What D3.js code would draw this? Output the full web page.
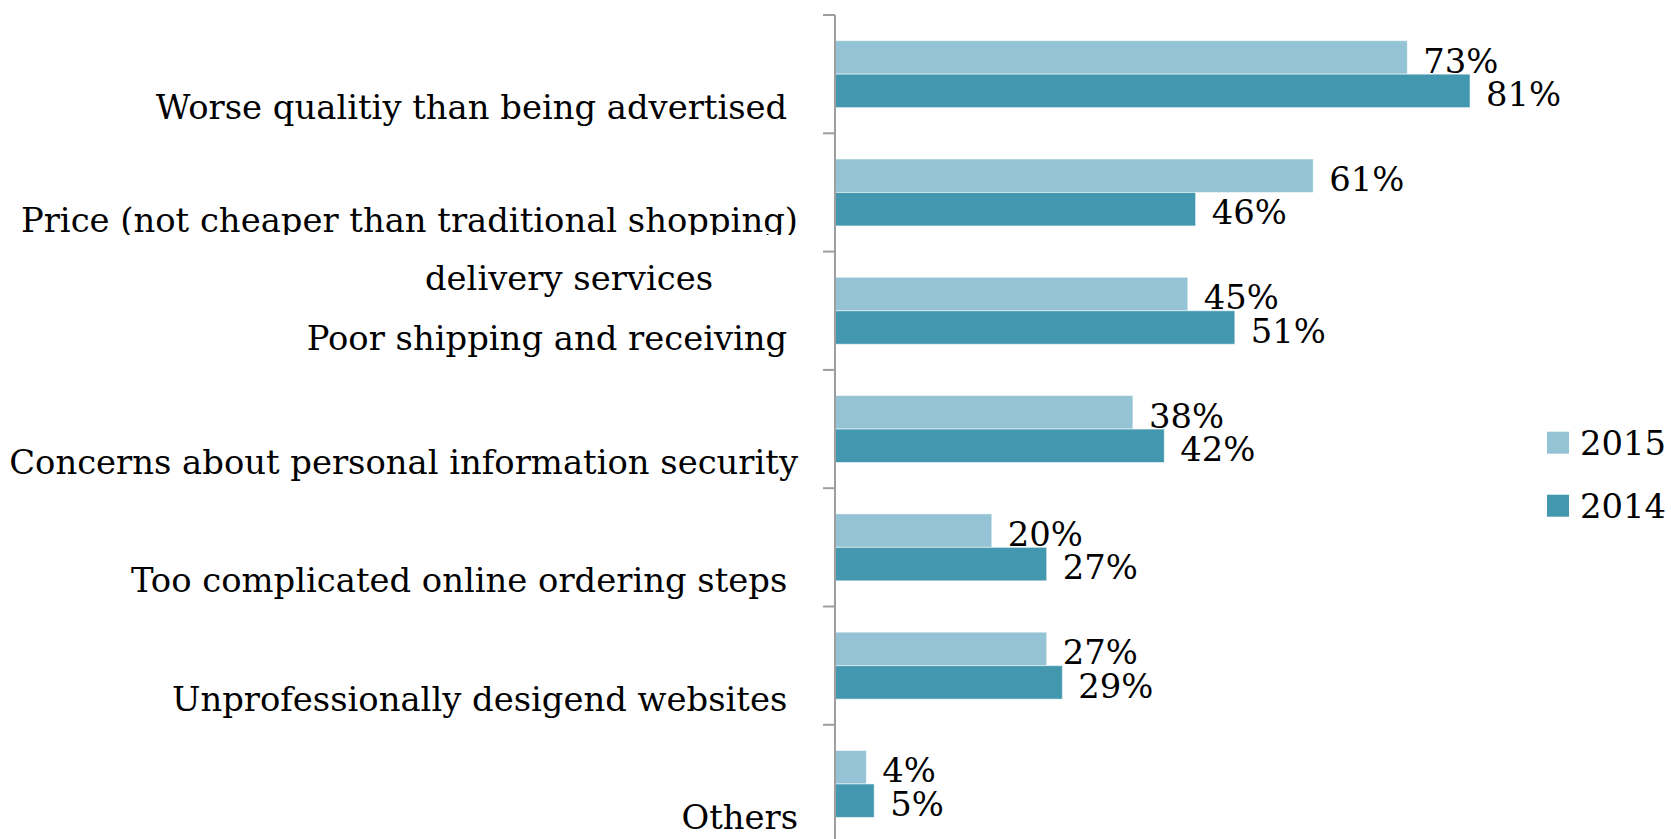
<!DOCTYPE html>
<html>
<head>
<meta charset="utf-8">
<script src="https://cdn.jsdelivr.net/npm/d3@7"></script>
<style>
  html, body { margin: 0; padding: 0; background: #fff; }
  svg { display: block; }
  text { font-family: "DejaVu Serif", serif; fill: #000; white-space: pre; }
</style>
</head>
<body>
<svg id="chart" width="1671" height="839"></svg>
<script>
// ---- data ----
const categories = [
  "Worse qualitiy than being advertised ",
  "Price (not cheaper than traditional shopping)",
  "Poor shipping and receiving ",
  "Concerns about personal information security",
  "Too complicated online ordering steps ",
  "Unprofessionally desigend websites ",
  "Others"
];
const extraLine = "delivery services";
const seriesNames = ["2015", "2014"];
const values2015 = [73, 61, 45, 38, 20, 27, 4];
const values2014 = [81, 46, 51, 42, 27, 29, 5];
const colors = ["#93C3D4", "#4398B0"];

// ---- layout ----
const W = 1671, H = 839;
const axisX = 835, topY = 15, bandStep = 118.3;
const fontSize = 33.8;

const svg = d3.select("#chart");

const y = d3.scaleBand()
  .domain(categories)
  .range([topY, topY + bandStep * categories.length])
  .padding(0);

const ySub = d3.scaleBand()
  .domain(seriesNames)
  .range([y.bandwidth() * 0.217, y.bandwidth() * 0.783])
  .padding(0);

const x = d3.scaleLinear().domain([0, 100]).range([axisX, axisX + 784]);

const color = d3.scaleOrdinal().domain(seriesNames).range(colors);

const rows = categories.map((c, i) => ({
  cat: c,
  vals: [
    { s: "2015", v: values2015[i] },
    { s: "2014", v: values2014[i] }
  ]
}));

// bars
const g = svg.append("g");
const groups = g.selectAll("g.cat").data(rows).join("g")
  .attr("class", "cat")
  .attr("transform", d => `translate(0,${y(d.cat)})`);

groups.selectAll("rect").data(d => d.vals).join("rect")
  .attr("x", x(0))
  .attr("y", d => ySub(d.s))
  .attr("width", d => x(d.v) - x(0))
  .attr("height", ySub.bandwidth())
  .attr("fill", d => color(d.s))
  .attr("stroke", "rgba(255,255,255,0.55)")
  .attr("stroke-width", 1);

groups.selectAll("text.val").data(d => d.vals).join("text")
  .attr("class", "val")
  .attr("x", d => x(d.v) + 16)
  .attr("y", d => ySub(d.s) + ySub.bandwidth() - 1.5)
  .attr("font-size", fontSize)
  .text(d => d.v + "%");

// axis
const axG = svg.append("g")
  .attr("transform", `translate(${axisX},0)`);
const bounds = d3.range(categories.length + 1).map(i => topY + i * y.step());
axG.selectAll("line.bt").data(bounds).join("line")
  .attr("class", "bt")
  .attr("x1", -12).attr("x2", 0)
  .attr("y1", d => d).attr("y2", d => d)
  .attr("stroke", "#9E9E9E").attr("stroke-width", 2);
axG.append("line")
  .attr("x1", 0).attr("x2", 0)
  .attr("y1", topY).attr("y2", H + 5)
  .attr("stroke", "#9E9E9E").attr("stroke-width", 2);

// category labels
const labelX = 798;
const defs = svg.append("defs");
const priceIdx = 1, poorIdx = 2;
defs.append("clipPath").attr("id", "clipPrice")
  .append("rect")
  .attr("x", 0).attr("y", y(categories[priceIdx]))
  .attr("width", axisX).attr("height", y.bandwidth() / 2 + 42.5);

categories.forEach((c, i) => {
  const cy = y(c) + y.bandwidth() / 2;
  const dy = (i === priceIdx || i === poorIdx) ? 39.5 : 45;
  const t = svg.append("text")
    .attr("x", labelX)
    .attr("y", cy + dy)
    .attr("text-anchor", "end")
    .attr("font-size", fontSize)
    .text(c);
  if (i === priceIdx) t.attr("clip-path", "url(#clipPrice)");
  if (i === poorIdx) {
    svg.append("text")
      .attr("x", labelX - 229)
      .attr("y", cy + dy - 60)
      .attr("text-anchor", "middle")
      .attr("font-size", fontSize)
      .text(extraLine);
  }
});

// legend
const legend = svg.append("g").attr("transform", "translate(1547,431.7)");
const lg = legend.selectAll("g").data(seriesNames).join("g")
  .attr("transform", (d, i) => `translate(0,${i * 63})`);
lg.append("rect").attr("width", 22).attr("height", 22).attr("fill", d => color(d));
lg.append("text").attr("x", 33).attr("y", 23).attr("font-size", fontSize).text(d => d);
</script>
</body>
</html>
